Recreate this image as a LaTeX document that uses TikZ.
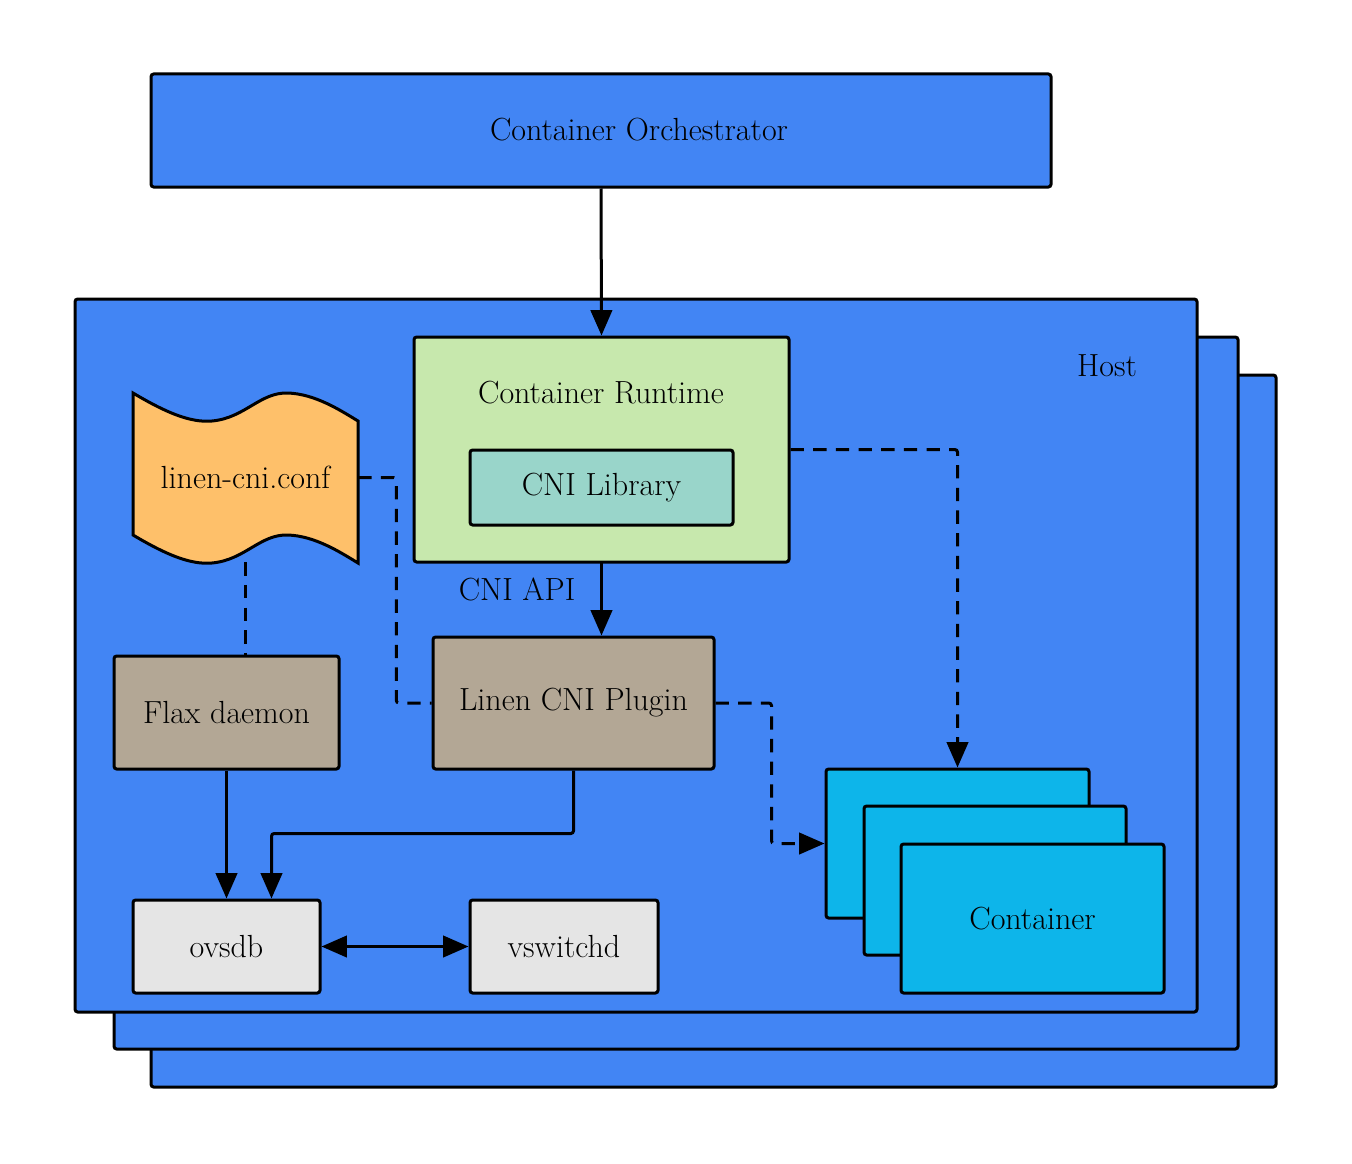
\documentclass[tikz,border=0pt]{standalone}
\usetikzlibrary{arrows.meta,fit,calc}
\pgfdeclarelayer{hosts}
\pgfdeclarelayer{lines}
\pgfsetlayers{hosts,lines,main}
\definecolor{hostblue}{HTML}{4285F4}
\definecolor{rtgreen}{HTML}{C7E8AD}
\definecolor{libteal}{HTML}{99D5CA}
\definecolor{taupe}{HTML}{B3A795}
\definecolor{confor}{HTML}{FEC06A}
\definecolor{ctrcyan}{HTML}{0DB5EA}
\definecolor{lgrey}{HTML}{E5E5E5}
\begin{document}
\begin{tikzpicture}[x=0.75pt,y=-0.75pt,
  lw/.style={line width=2.25pt},
  boxed/.style={draw=black, lw, rounded corners=2pt, inner sep=0pt},
  txt/.style={inner sep=0pt, font=\fontsize{24}{28}\selectfont},
  conn/.style={lw, -{Triangle[length=19pt,width=16pt]}},
  dconn/.style={lw, dash pattern=on 10pt off 7pt, rounded corners=2pt},
  hostbox/.style={draw=black, fill=hostblue, lw, rounded corners=2pt}]
\useasboundingbox (0,0) rectangle (1352,1163);

% host stack
\begin{pgfonlayer}{hosts}
\draw[hostbox] (151,375) rectangle (1276,1087);
\draw[hostbox] (114,337) rectangle (1238,1049);
\draw[hostbox] (75,299) rectangle (1197,1012);
\end{pgfonlayer}
\node[txt] (hostlbl) at (1107,366) {Host};

% orchestrator
\node[boxed, fill=hostblue, fit={(151,74) (1051,187)}] (orch) {};
\node[txt] (orchlbl) at (639,130) {Container Orchestrator};

% runtime
\node[boxed, fill=rtgreen, fit={(414,337) (789,562)}] (rt) {};
\node[txt] (rtlbl) at (601,393) {Container Runtime};
\node[boxed, fill=libteal, fit={(470,450) (733,525)}] (lib) {};
\node[txt] at (lib.center) {CNI Library};
\node[txt] (apilbl) at (517,589) {CNI API};

% plugin
\node[boxed, fill=taupe, fit={(433,637) (714,769)}] (plug) {};
\node[txt] at (plug.center) {Linen CNI Plugin};

% flax
\node[boxed, fill=taupe, fit={(114,656) (339,769)}] (flax) {};
\node[txt] at (flax.center) {Flax daemon};

% conf (wavy document)
\draw[lw, fill=confor]
  (133,393) .. controls (165,412) and (190,423) .. (212,421)
  .. controls (245,418) and (260,392) .. (288,393)
  .. controls (315,394) and (340,410) .. (358,421)
  -- (358,563)
  .. controls (340,552) and (315,536) .. (288,535)
  .. controls (260,534) and (245,560) .. (212,563)
  .. controls (190,565) and (165,554) .. (133,535)
  -- cycle;
\node[inner sep=0pt, fit={(133,393) (358,562)}] (conf) {};
\node[txt] at (conf.center) {linen-cni.conf};

% ovs
\node[boxed, fill=lgrey, fit={(133,900) (320,993)}] (ovs) {};
\node[txt] at (ovs.center) {ovsdb};
\node[boxed, fill=lgrey, fit={(470,900) (658,993)}] (vsw) {};
\node[txt] at (vsw.center) {vswitchd};

% containers
\node[boxed, fill=ctrcyan, fit={(826,769) (1089,918)}] (c1) {};
\node[boxed, fill=ctrcyan, fit={(864,806) (1126,955)}] (c2) {};
\node[boxed, fill=ctrcyan, fit={(901,844) (1164,993)}] (c3) {};
\node[txt] at (c3.center) {Container};

% connectors
\begin{pgfonlayer}{lines}
\draw[conn] (orch.south) -- (rt.north);
\draw[conn] (lib.south) -- (lib.south |- plug.north);
\draw[dconn, -{Triangle[length=19pt,width=16pt]}] (rt.east) -| (c1.north);
\draw[dconn] (conf.east) -- ++(38,0) |- (plug.west);
\draw[dconn] (conf.south) -- (conf.south |- flax.north);
\draw[dconn, -{Triangle[length=19pt,width=16pt]}] (plug.east) -- ++(56,0) |- (c1.west);
\draw[conn] (flax.south) -- (flax.south |- ovs.north);
\draw[conn, rounded corners=2pt] (plug.south) -- ++(0,63) -| ($(ovs.north)+(45,0)$);
\draw[lw, {Triangle[length=19pt,width=16pt]}-{Triangle[length=19pt,width=16pt]}] (ovs.east) -- (vsw.west);
\end{pgfonlayer}
\end{tikzpicture}
\end{document}
